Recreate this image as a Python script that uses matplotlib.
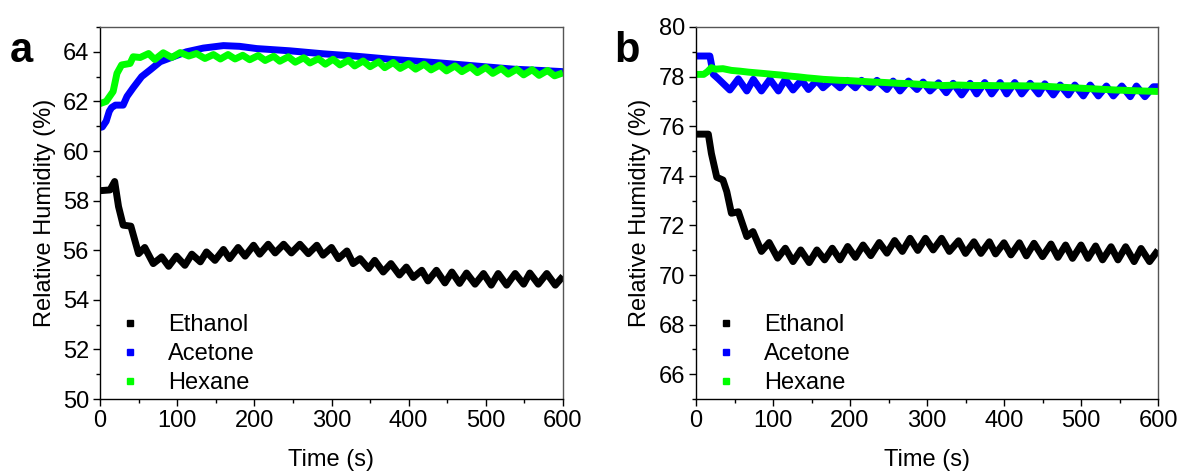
import matplotlib
matplotlib.use("Agg")
import matplotlib.pyplot as plt
from matplotlib.lines import Line2D
from matplotlib.ticker import MultipleLocator

plt.rcParams['font.family'] = ['Liberation Sans', 'DejaVu Sans']

# ---- panel a ----
a_eth_t = [0, 13, 19, 24, 30, 40, 50, 58, 69, 80, 89, 99, 110, 119, 130, 138, 149, 160, 168,
           179, 188, 199, 207, 218, 227, 238, 248, 259, 270, 281, 289, 300, 309, 320, 328, 337,
           348, 356, 367, 377, 388, 397, 406, 417, 425, 436, 447, 456, 466, 475, 486, 497, 507,
           516, 527, 538, 549, 557, 568, 579, 590, 600]
a_eth = [58.4, 58.43, 58.77, 57.76, 57.01, 56.97, 55.86, 56.11, 55.46, 55.73, 55.35, 55.76,
         55.39, 55.84, 55.53, 55.93, 55.59, 56.03, 55.66, 56.11, 55.76, 56.2, 55.84, 56.24,
         55.89, 56.24, 55.89, 56.24, 55.86, 56.2, 55.8, 56.11, 55.66, 55.97, 55.46, 55.66,
         55.26, 55.59, 55.12, 55.46, 55.0, 55.32, 54.9, 55.19, 54.76, 55.19, 54.68, 55.12,
         54.66, 55.08, 54.63, 55.06, 54.59, 55.06, 54.59, 55.06, 54.63, 55.08, 54.63, 55.06,
         54.59, 54.95]

a_ace_t = [0, 3, 8, 12, 15, 20, 30, 35, 43, 54, 65, 78, 95, 112, 134, 160, 181, 203, 246,
           289, 333, 376, 420, 449, 490, 536, 570, 600]
a_ace = [60.95, 60.97, 61.2, 61.6, 61.75, 61.85, 61.85, 62.2, 62.55, 63.0, 63.27, 63.6, 63.8,
         64.0, 64.15, 64.25, 64.22, 64.13, 64.04, 63.92, 63.82, 63.7, 63.6, 63.53, 63.42,
         63.3, 63.25, 63.2]

a_hex_t = [0, 8, 17, 22, 28, 39, 43, 52, 63, 71, 82, 93, 104, 115, 125, 136, 147, 156, 166,
           175, 185, 194, 205, 214, 225, 233, 244, 253, 264, 272, 283, 292, 302, 311, 322, 330,
           341, 350, 361, 369, 380, 389, 400, 409, 420, 429, 440, 449, 460, 469, 480, 489, 500,
           509, 520, 529, 540, 549, 560, 569, 580, 589, 600]
a_hex = [61.91, 62.0, 62.4, 63.13, 63.47, 63.53, 63.8, 63.77, 63.93, 63.69, 63.96, 63.77,
         63.97, 63.83, 63.93, 63.73, 63.89, 63.71, 63.89, 63.71, 63.86, 63.68, 63.85, 63.65,
         63.82, 63.62, 63.8, 63.58, 63.76, 63.55, 63.72, 63.5, 63.7, 63.47, 63.66, 63.43,
         63.63, 63.4, 63.6, 63.36, 63.57, 63.33, 63.52, 63.3, 63.5, 63.27, 63.46, 63.23,
         63.43, 63.2, 63.4, 63.16, 63.37, 63.13, 63.33, 63.1, 63.3, 63.07, 63.28, 63.05,
         63.25, 63.03, 63.15]

# ---- panel b ----
b_eth_t = [0, 16, 20, 27, 35, 40, 46, 55, 66, 74, 85, 95, 106, 116, 126, 136, 147, 157, 167,
           177, 187, 197, 207, 217, 227, 238, 248, 258, 268, 278, 288, 298, 308, 319, 329, 341,
           350, 361, 370, 381, 389, 400, 409, 420, 429, 439, 450, 461, 470, 480, 489, 500, 509,
           519, 528, 539, 548, 558, 569, 578, 589, 600]
b_eth = [75.68, 75.68, 74.9, 73.94, 73.83, 73.36, 72.49, 72.55, 71.55, 71.75, 70.95, 71.31,
         70.68, 71.08, 70.54, 71.01, 70.5, 71.01, 70.61, 71.08, 70.61, 71.15, 70.71, 71.21,
         70.78, 71.31, 70.88, 71.39, 70.95, 71.48, 70.99, 71.48, 71.01, 71.48, 70.95, 71.38,
         70.87, 71.34, 70.87, 71.34, 70.85, 71.3, 70.81, 71.3, 70.77, 71.28, 70.74, 71.25,
         70.71, 71.21, 70.67, 71.21, 70.67, 71.17, 70.61, 71.14, 70.61, 71.14, 70.54, 71.07,
         70.54, 71.0]

b_ace_t = [0, 18, 22.5, 29, 44, 55, 66, 74.5, 85, 96, 107, 116, 126, 137, 146, 157, 165, 176,
           187, 196, 207, 215, 226, 235, 248, 256, 265, 276, 287, 295, 304, 315, 325, 334, 345,
           356, 364.5, 375, 384, 395, 403.5, 414, 423, 434, 445, 453, 464, 473, 483.5, 492, 503,
           512, 522.5, 533, 542, 553, 564, 572, 583, 594, 600]
b_ace = [78.83, 78.83, 78.09, 77.91, 77.46, 77.91, 77.42, 77.89, 77.42, 77.89, 77.42, 77.89,
         77.46, 77.86, 77.48, 77.85, 77.55, 77.85, 77.55, 77.85, 77.55, 77.85, 77.55, 77.85,
         77.48, 77.82, 77.42, 77.82, 77.48, 77.78, 77.42, 77.75, 77.35, 77.73, 77.26, 77.73,
         77.3, 77.76, 77.3, 77.76, 77.3, 77.76, 77.3, 77.73, 77.3, 77.71, 77.26, 77.66, 77.26,
         77.66, 77.22, 77.66, 77.22, 77.62, 77.22, 77.62, 77.19, 77.62, 77.19, 77.59, 77.59]

b_hex_t = [0, 10, 15, 20, 25, 35, 46, 57, 68, 79, 90, 100, 111, 122, 133, 144, 155, 165, 176,
           187, 198, 209, 220, 230, 241, 252, 263, 274, 285, 295, 308, 321, 340, 360, 380, 400,
           420, 447, 470, 495, 520, 545, 570, 600]
b_hex = [78.09, 78.09, 78.2, 78.36, 78.3, 78.32, 78.25, 78.22, 78.18, 78.15, 78.12, 78.09,
         78.06, 78.02, 77.99, 77.95, 77.92, 77.89, 77.87, 77.85, 77.84, 77.82, 77.8, 77.78,
         77.77, 77.75, 77.73, 77.72, 77.7, 77.68, 77.66, 77.64, 77.66, 77.64, 77.64, 77.63,
         77.63, 77.62, 77.58, 77.54, 77.5, 77.46, 77.43, 77.4]

labels = ['Ethanol', 'Acetone', 'Hexane']
colors = ['#000000', '#0000ff', '#00ff00']

fig = plt.figure(figsize=(11.8, 4.73), dpi=100)
ax1 = fig.add_axes([100 / 1180, 74 / 473, 463 / 1180, 372 / 473])
ax2 = fig.add_axes([696 / 1180, 74 / 473, 462 / 1180, 372 / 473])

panels = [
    (ax1, [(a_eth_t, a_eth), (a_ace_t, a_ace), (a_hex_t, a_hex)], (50, 65)),
    (ax2, [(b_eth_t, b_eth), (b_ace_t, b_ace), (b_hex_t, b_hex)], (65, 80)),
]

for ax, series, ylim in panels:
    for (t, v), c in zip(series, colors):
        ax.plot(t, v, color=c, lw=5, solid_joinstyle='round', solid_capstyle='butt')
    ax.set_xlim(0, 600)
    ax.set_ylim(*ylim)
    ax.xaxis.set_major_locator(MultipleLocator(100))
    ax.xaxis.set_minor_locator(MultipleLocator(50))
    ax.yaxis.set_major_locator(MultipleLocator(2))
    ax.yaxis.set_minor_locator(MultipleLocator(1))
    ax.tick_params(which='both', direction='out', top=False, right=False, labelsize=17,
                   width=1)
    ax.tick_params(which='major', length=5, pad=3)
    ax.tick_params(which='minor', length=3)
    for s in ['left', 'bottom']:
        ax.spines[s].set_color('black')
        ax.spines[s].set_linewidth(1.0)
    for s in ['top', 'right']:
        ax.spines[s].set_color('#555555')
        ax.spines[s].set_linewidth(1.0)
    ax.set_xlabel('Time (s)', fontsize=17, labelpad=12)
    ax.set_ylabel('Relative Humidity (%)', fontsize=17, labelpad=5)
    handles = [Line2D([], [], color=c, marker='s', markersize=4, linestyle='none')
               for c in colors]
    ax.legend(handles, labels, loc='lower left', bbox_to_anchor=(0.03, 0.0),
              frameon=False, fontsize=17, handlelength=1.0, handletextpad=1.1,
              labelspacing=0.3, borderpad=0.2, borderaxespad=0)

fig.text(10 / 1180, 1 - 62 / 473, 'a', fontsize=30, fontweight='bold', va='baseline')
fig.text(614 / 1180, 1 - 62 / 473, 'b', fontsize=30, fontweight='bold', va='baseline')

fig.savefig('out.png', dpi=100)
